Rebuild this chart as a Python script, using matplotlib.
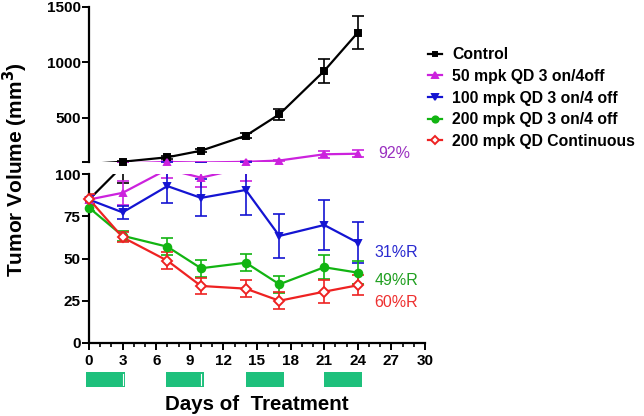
import matplotlib.pyplot as plt
from matplotlib.lines import Line2D
from matplotlib.patches import Rectangle
import matplotlib.transforms as mtransforms
import numpy as np

plt.rcParams['font.family'] = ['Liberation Sans', 'DejaVu Sans']

# dados (dias e volumes)
dias = [0, 3, 7, 10, 14, 17, 21, 24]

controle = [85, 105, 145, 204, 339, 532, 922, 1267]
controle_err = [3, 10, 12, 15, 25, 50, 108, 148]

mpk50 = [85, 89, 103, 98, 104, 116, 172, 177]
mpk50_err = [3, 7, 5, 5.5, 8, 8, 30, 30]

mpk100 = [85, 77.4, 93, 86, 90.7, 63.4, 69.9, 59.4]
mpk100_err = [3, 4, 10, 11, 15, 13, 15, 12]

mpk200 = [80.2, 63.5, 57, 44.2, 47.5, 34.7, 44.8, 41.6]
mpk200_err = [2, 3, 5, 5, 5, 5, 7, 7]

continuo = [85.3, 62.6, 48.7, 33.7, 32.1, 24.9, 30.3, 34.1]
continuo_err = [3, 3, 5, 4.5, 5, 5, 7, 6]

rotulos = ["Control", "50 mpk QD 3 on/4off", "100 mpk QD 3 on/4 off",
           "200 mpk QD 3 on/4 off", "200 mpk QD Continuous"]

# periodos de dose (barras verdes)
dose_inicio = [-0.3, 6.9, 14.0, 21.0]
dose_fim = [3.2, 10.3, 17.4, 24.4]

series = [
    (controle, controle_err, "#000000", "s", 4.5, "#000000"),
    (mpk50, mpk50_err, "#cc22dd", "^", 5, "#cc22dd"),
    (mpk100, mpk100_err, "#1414d2", "v", 5, "#1414d2"),
    (mpk200, mpk200_err, "#12b412", "o", 5.5, "#12b412"),
    (continuo, continuo_err, "#ee2222", "D", 5.5, "white"),
]

fig = plt.figure(figsize=(6.44, 4.16), dpi=100)
ax_top = fig.add_axes([0.1382, 0.6099, 0.5217, 0.3740])
ax_bot = fig.add_axes([0.1382, 0.1762, 0.5217, 0.4048])

limites = {ax_top: (100, 1500), ax_bot: (0, 100)}

for ax in (ax_top, ax_bot):
    lo, hi = limites[ax]
    ax.set_xlim(0, 30)
    ax.set_ylim(lo, hi)
    for dados, err, cor, mk, ms, face in series:
        x = np.array(dias, dtype=float)
        y = np.array(dados, dtype=float)
        ax.plot(x, y, color=cor, lw=1.6, zorder=2)
        ax.errorbar(x, y, yerr=err, fmt='none', ecolor=cor, elinewidth=1.2,
                    capsize=4.5, capthick=1.2, zorder=2)
        dentro = (y >= lo) & (y <= hi)
        ax.plot(x[dentro], y[dentro], linestyle='none', marker=mk, ms=ms,
                mfc=face, mec=cor, mew=1.4, clip_on=False, zorder=3)
    ax.spines['top'].set_visible(False)
    ax.spines['right'].set_visible(False)
    ax.spines['left'].set_linewidth(1.6)
    ax.tick_params(axis='y', width=1.4, length=5, labelsize=11, pad=1)

ax_top.spines['bottom'].set_visible(False)
ax_top.set_xticks([])
ax_top.set_yticks([100, 500, 1000, 1500])
ax_top.set_yticklabels(['', '500', '1000', '1500'], fontweight='bold')

ax_bot.spines['bottom'].set_linewidth(1.6)
ax_bot.set_yticks([0, 25, 50, 75, 100])
ax_bot.set_yticklabels(['0', '25', '50', '75', '100'], fontweight='bold')
ax_bot.set_xticks(range(0, 31, 3))
ax_bot.set_xticklabels([str(d) for d in range(0, 31, 3)], fontweight='bold')
ax_bot.set_xticks(range(0, 31), minor=True)
ax_bot.tick_params(axis='x', which='major', width=1.4, length=5, labelsize=11, pad=3)
ax_bot.tick_params(axis='x', which='minor', width=1.2, length=3)

# barras de tratamento
trans = mtransforms.blended_transform_factory(ax_bot.transData, ax_bot.transAxes)
for ini, fim in zip(dose_inicio, dose_fim):
    ax_bot.add_patch(Rectangle((ini, -0.263), fim - ini, 0.089, transform=trans,
                               color="#1ec07c", clip_on=False, lw=0))
for d in [3, 10]:
    ax_bot.plot([d, d], [-0.25, -0.187], transform=trans, color="white",
                lw=0.8, clip_on=False)

# anotacoes
ax_top.text(25.8, 182, "92%", color="#9a30c0", fontsize=11.5, va='center')
ax_bot.text(25.5, 53.3, "31%R", color="#2a2ad0", fontsize=11.5, va='center')
ax_bot.text(25.5, 37.2, "49%R", color="#22a022", fontsize=11.5, va='center')
ax_bot.text(25.5, 23.8, "60%R", color="#ee3030", fontsize=11.5, va='center')

fig.text(0.399, 1 - 404 / 416, "Days of  Treatment", fontsize=14.8,
         fontweight='bold', ha='center', va='center')
fig.text(0.024, 1 - 170 / 416, "Tumor Volume (mm$^\\mathbf{3}$)", fontsize=15,
         fontweight='bold', ha='center', va='center', rotation=90)

handles = []
for dados, err, cor, mk, ms, face in series:
    handles.append(Line2D([], [], color=cor, lw=1.6, marker=mk, ms=ms - 1,
                          mfc=face, mec=cor, mew=1.4))
fig.legend(handles, rotulos, loc='upper left', bbox_to_anchor=(0.652, 0.905),
           frameon=False, borderpad=0, handlelength=0.94, handletextpad=0.6,
           labelspacing=0.42, prop={'weight': 'bold', 'size': 11.3})

plt.savefig("out.png", dpi=100)
